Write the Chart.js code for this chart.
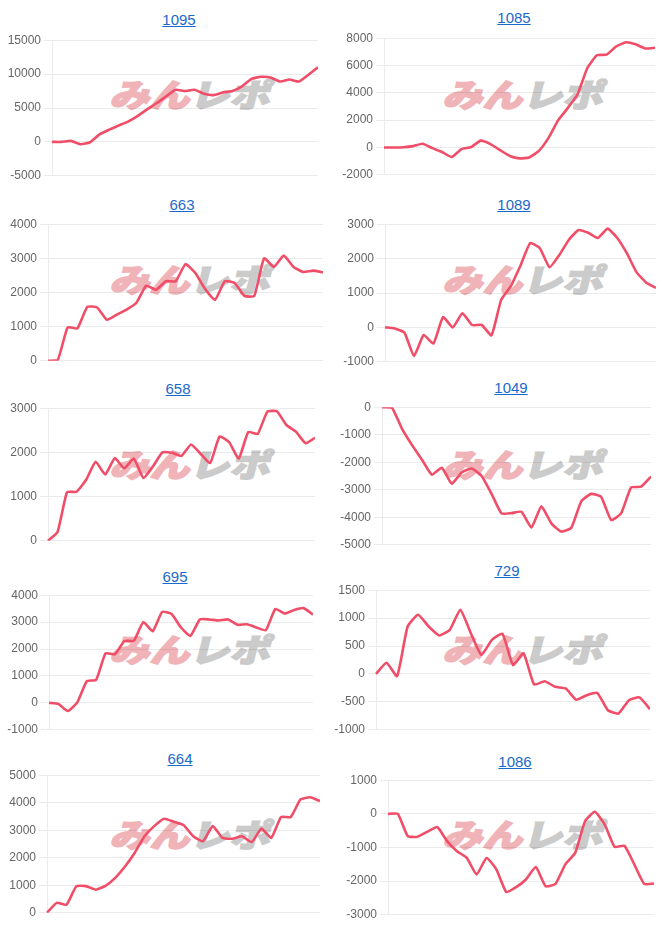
<!DOCTYPE html>
<html>
<head>
<meta charset="utf-8">
<script src="https://cdn.jsdelivr.net/npm/chart.js@4/dist/chart.umd.min.js"></script>
<style>
  body { margin: 0; background: #fff; width: 666px; height: 925px; position: relative; overflow: hidden; font-family: 'Liberation Sans', Arial, sans-serif; }
  .title { position: absolute; transform: translateX(-50%); font-size: 15px; line-height: 18px; color: #1b6ac9; text-decoration: underline; white-space: nowrap; }
  .mark { position: absolute; font-family: 'Noto Sans CJK JP', sans-serif; font-weight: 900; font-size: 40px; line-height: 40px; transform: skewX(-14deg) scaleY(0.8); transform-origin: 0 0; white-space: nowrap; letter-spacing: 0px; }
  .mark .red { color: #efb3b8; -webkit-text-stroke: 2px #efb3b8; }
  .mark .gray { color: #cbcbcb; -webkit-text-stroke: 2px #cbcbcb; }
  canvas { position: absolute; }
</style>
</head>
<body>
<script>
const days = ['1', '2', '3', '4', '5', '6', '7', '8', '9', '10', '11', '12', '13', '14', '15',
  '16', '17', '18', '19', '20', '21', '22', '23', '24', '25', '26', '27', '28', '29'];

const titles = ['1095', '1085', '663', '1089', '658', '1049', '695', '729', '664', '1086'];

const s1095 = [0, 0, 150, -350, -50, 1100, 1800, 2400, 3000, 3800, 4800, 5700, 6700, 7700, 7500,
  7700, 7100, 6900, 7300, 7500, 8200, 9300, 9600, 9500, 8900, 9200, 8900, 9900, 11000];
const s1085 = [0, 0, 20, 100, 270, -50, -330, -700, -120, 30, 500, 250, -200, -620, -800,
  -730, -250, 700, 2000, 2900, 3900, 5800, 6750, 6800, 7400, 7700, 7550, 7250, 7300];
const s663 = [0, 30, 980, 950, 1580, 1560, 1200, 1350, 1500, 1700, 2200, 2080, 2330, 2330, 2830,
  2570, 2100, 1780, 2330, 2280, 1900, 1900, 3000, 2750, 3080, 2750, 2600, 2640, 2590];
const s1089 = [0, -30, -150, -830, -220, -470, 300, 0, 410, 70, 70, -230, 800, 1200, 1800,
  2450, 2300, 1750, 2100, 2550, 2830, 2750, 2600, 2870, 2600, 2150, 1600, 1300, 1150];
const s658 = [0, 200, 1100, 1110, 1380, 1790, 1500, 1870, 1640, 1860, 1420, 1680, 2000, 1990, 1920,
  2180, 1970, 1760, 2360, 2230, 1860, 2460, 2420, 2920, 2930, 2620, 2470, 2210, 2330];
const s1049 = [0, -20, -780, -1370, -1900, -2450, -2200, -2780, -2370, -2230, -2500, -3150, -3860, -3850,
  -3800, -4370, -3600, -4220, -4520, -4380, -3420, -3150, -3260, -4100, -3860, -2920, -2890, -2520];
const s695 = [0, -40, -300, 20, 800, 860, 1840, 1810, 2300, 2310, 3000, 2660, 3380, 3300, 2800,
  2490, 3100, 3100, 3060, 3100, 2900, 2920, 2800, 2700, 3490, 3320, 3450, 3520, 3280];
const s729 = [0, 200, -40, 850, 1060, 850, 690, 790, 1150, 730, 340, 610, 720, 160,
  370, -190, -130, -230, -260, -460, -380, -340, -650, -710, -470, -420, -630];
const s664 = [0, 360, 290, 960, 970, 840, 980, 1270, 1680, 2180, 2780, 3150, 3420, 3310, 3190,
  2780, 2600, 3150, 2720, 2690, 2780, 2570, 3060, 2720, 3480, 3480, 4120, 4200, 4060];
const s1086 = [0, 0, -660, -680, -530, -390, -810, -1110, -1310, -1800, -1310, -1650, -2320, -2180,
  -1950, -1580, -2150, -2080, -1500, -1160, -220, 60, -320, -980, -950, -1500, -2080, -2070];

const series = [s1095, s1085, s663, s1089, s658, s1049, s695, s729, s664, s1086];

const yMins = [-5000, -2000, 0, -1000, 0, -5000, -1000, -1000, 0, -3000];
const yMaxs = [15000, 8000, 4000, 3000, 3000, 0, 4000, 1500, 5000, 1000];
const ySteps = [5000, 2000, 1000, 1000, 1000, 1000, 1000, 500, 1000, 1000];

// page geometry of each panel: grid top, grid bottom, plot left, plot right, title centre x, title centre y
const boxes = [
  [39, 174, 52, 318, 179, 20],
  [37, 173, 384, 655, 514, 18],
  [223, 359, 48, 323, 182, 205],
  [223, 360, 385, 656, 514, 205],
  [407, 539, 48, 315, 178, 389],
  [406, 543, 382, 651, 511, 388],
  [594, 728, 49, 313, 175, 577],
  [589, 728, 376, 650, 507, 571],
  [774, 911, 47, 320, 180, 759],
  [779, 913, 388, 654, 515, 762],
];

// room Chart.js keeps above / below the grid for the end tick labels
const PAD_TOP = 9;
const PAD_BOTTOM = 12;

Chart.defaults.font.family = "'Liberation Sans', Arial, sans-serif";
Chart.defaults.font.size = 12;
Chart.defaults.color = '#666';

titles.forEach((title, i) => {
  const [gridTop, gridBottom, plotLeft, plotRight, titleX, titleY] = boxes[i];
  const colLeft = i % 2 ? 333 : 0;
  const rowTop = Math.floor(i / 2) * 185;

  const link = document.createElement('a');
  link.className = 'title';
  link.href = '#';
  link.textContent = title;
  link.style.left = `${titleX}px`;
  link.style.top = `${titleY - 9}px`;
  document.body.appendChild(link);

  const mark = document.createElement('div');
  mark.className = 'mark';
  mark.innerHTML = '<span class="red">みん</span><span class="gray">レポ</span>';
  mark.style.left = `${colLeft + 117}px`;
  mark.style.top = `${rowTop + 77}px`;
  document.body.appendChild(mark);

  const canvas = document.createElement('canvas');
  const width = plotRight - colLeft;
  const height = gridBottom - gridTop + PAD_TOP + PAD_BOTTOM;
  canvas.width = width;
  canvas.height = height;
  canvas.style.left = `${colLeft}px`;
  canvas.style.top = `${gridTop - PAD_TOP}px`;
  document.body.appendChild(canvas);

  const values = series[i];

  new Chart(canvas, {
    type: 'line',
    data: {
      labels: days.slice(0, values.length),
      datasets: [
        {
          label: title,
          data: values,
          borderColor: 'rgb(240, 78, 104)',
          borderWidth: 2.6,
          pointRadius: 0,
          tension: 0.15,
          fill: false,
        },
      ],
    },
    options: {
      responsive: false,
      animation: false,
      layout: { padding: 0 },
      plugins: {
        legend: { display: false },
        tooltip: { enabled: false },
      },
      scales: {
        x: { display: false },
        y: {
          min: yMins[i],
          max: yMaxs[i],
          ticks: { stepSize: ySteps[i], padding: 3, callback: (value) => String(value) },
          grid: { color: 'rgba(0, 0, 0, 0.08)', tickLength: 8 },
          border: { color: 'rgba(0, 0, 0, 0.08)' },
          afterFit(scale) {
            scale.width = plotLeft - colLeft;
          },
        },
      },
    },
  });
});
</script>
</body>
</html>
